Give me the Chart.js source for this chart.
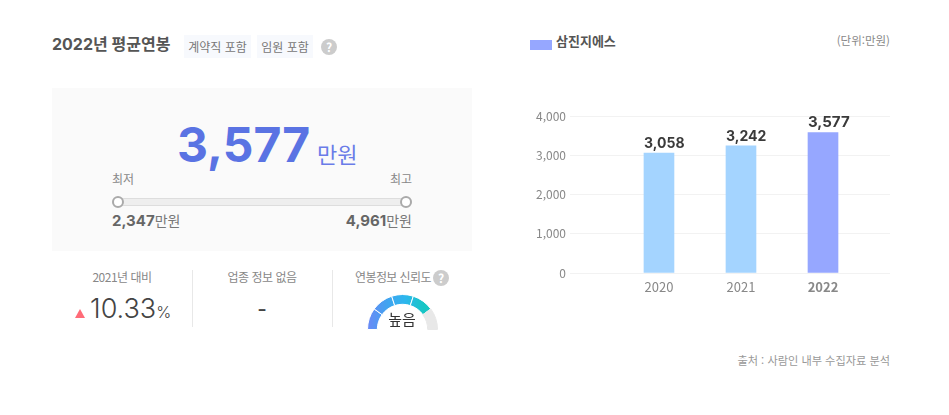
<!DOCTYPE html>
<html lang="ko"><head><meta charset="utf-8">
<script src="https://cdn.jsdelivr.net/npm/chart.js@4"></script>
<style>
html,body{margin:0;padding:0;background:#fff;width:949px;height:415px;overflow:hidden;font-family:"Noto Sans CJK KR","Noto Sans",sans-serif}
.a{position:absolute;white-space:nowrap;line-height:1}
.n{font-family:Inter,"Noto Sans CJK KR",sans-serif}
.c{transform:translateX(-50%)}
.r{transform:translateX(-100%)}
.tag{position:absolute;top:35px;height:23px;background:#f7f9fd;color:#777;font-size:12px;line-height:23px;text-align:center}
.q{position:absolute;width:16px;height:16px;border-radius:50%;background:#ccc;color:#fff;font-size:12px;font-weight:700;line-height:16px;text-align:center}
.sep{position:absolute;top:270px;height:57px;width:1px;background:#e8e8e8}
.lab{color:#888;font-size:12px;letter-spacing:-.5px}
</style></head><body>
<div class="a n" style="left:52px;top:36px;font-size:16px;font-weight:700;color:#555">2022년 평균연봉</div>
<div class="tag" style="left:184px;width:67px">계약직 포함</div>
<div class="tag" style="left:257px;width:56px">임원 포함</div>
<div class="q" style="left:321px;top:39px">?</div>

<div class="a" style="left:52px;top:88px;width:420px;height:163px;background:#fafafa"></div>
<div class="a n" id="big" style="left:177px;top:121px;font-size:48px;font-weight:700;color:#5a73e3"></div>
<div class="a" style="left:317px;top:142px;font-size:22px;color:#6a7ce8">만원</div>
<div class="a lab" style="left:112px;top:173px;letter-spacing:0">최저</div>
<div class="a lab r" style="left:412px;top:173px;letter-spacing:0">최고</div>
<div class="a" style="left:112px;top:198px;width:298px;height:6px;background:#eee;border:1px solid #ddd;border-radius:4px"></div>
<div class="a" style="left:112px;top:196px;width:8px;height:8px;background:#fff;border:2px solid #aaa;border-radius:50%"></div>
<div class="a" style="left:400px;top:196px;width:8px;height:8px;background:#fff;border:2px solid #aaa;border-radius:50%"></div>
<div class="a n" style="left:112px;top:213px;color:#666;font-size:15px;font-weight:700"><span id="lo"></span><span style="font-size:14px;font-weight:400;color:#777;font-family:'Noto Sans CJK KR'">만원</span></div>
<div class="a n r" style="left:412px;top:213px;color:#666;font-size:15px;font-weight:700"><span id="hi"></span><span style="font-size:14px;font-weight:400;color:#777;font-family:'Noto Sans CJK KR'">만원</span></div>

<div class="sep" style="left:192px"></div><div class="sep" style="left:332px"></div>
<div class="a lab c" style="left:122px;top:271px">2021년 대비</div>
<div class="a" style="left:75px;top:309px;width:0;height:0;border-left:5.5px solid transparent;border-right:5.5px solid transparent;border-bottom:9px solid #ff6b78"></div>
<div class="a n" style="left:90px;top:295px;color:#444;font-size:27px;font-weight:300"><span id="chg"></span><span style="font-size:16px">%</span></div>
<div class="a lab c" style="left:262px;top:271px">업종 정보 없음</div>
<div class="a c" style="left:262px;top:296px;color:#444;font-size:26px">-</div>
<div class="a lab" style="left:355px;top:271px;letter-spacing:-.6px">연봉정보 신뢰도</div>
<div class="q" style="left:433px;top:270px">?</div>
<div class="a" style="left:367px;top:294px;width:71px;height:36px;overflow:hidden"><canvas id="g" width="71" height="36" style="display:block"></canvas></div>
<div class="a c" style="left:402px;top:311px;color:#333;font-size:15px">높음</div>

<div class="a" style="left:530px;top:40px;width:22px;height:10px;background:#96a7ff"></div>
<div class="a" style="left:556px;top:34px;font-size:13px;font-weight:700;color:#555">삼진지에스</div>
<div class="a r" style="left:890px;top:35px;font-size:11.5px;color:#888">(단위:만원)</div>
<div class="a r" style="left:890px;top:355px;font-size:11.2px;color:#999">출처 : 사람인 내부 수집자료 분석</div>
<div class="a" style="left:520px;top:100px;width:370px;height:200px"><canvas id="c"></canvas></div>
<script>
const years=[2020,2021,2022];
const salaries=[3058,3242,3577];
const barColors=['#a4d4ff','#a4d4ff','#96a7ff'];
const yTicks=[0,1000,2000,3000,4000];
const lowest=2347, highest=4961, current=3577, change=10.33;
const gaugeSegments=[1,1,1,1,1];
const gaugeStops=['#6b88f6','#43a2f0','#2cb6ee','#17c6c4'];
const gaugeEmpty='#e8e8e8';

const fmt=v=>v.toLocaleString('en-US');
document.getElementById('big').textContent=fmt(current);
document.getElementById('lo').textContent=fmt(lowest);
document.getElementById('hi').textContent=fmt(highest);
document.getElementById('chg').textContent=change.toFixed(2);

const FONT='"Noto Sans CJK KR","Noto Sans",sans-serif';
const barLabels={id:'barLabels',afterDatasetsDraw(ch){
  const c=ch.ctx,m=ch.getDatasetMeta(0);
  c.save();c.fillStyle='#3a3a3a';c.textAlign='left';c.textBaseline='alphabetic';
  m.data.forEach((b,i)=>{
    c.font='700 '+(i===2?15:14)+'px Inter,'+FONT;
    c.fillText(fmt(salaries[i]),b.x-15,b.y-(i===2?6:5));
  });
  c.restore();
}};
new Chart(document.getElementById('c'),{
  type:'bar',
  data:{datasets:[{
    data:years.map((y,i)=>({x:y,y:salaries[i]})),
    backgroundColor:barColors,barThickness:30,borderWidth:0
  }]},
  plugins:[barLabels],
  options:{
    responsive:true,maintainAspectRatio:false,animation:false,
    layout:{padding:{top:16,left:0,right:0,bottom:0}},
    plugins:{legend:{display:false},tooltip:{enabled:false}},
    scales:{
      x:{type:'linear',offset:false,min:2018.915,max:2022.817,
        grid:{display:false,drawTicks:false,tickLength:0},border:{display:false},
        afterBuildTicks(s){s.ticks=years.map(v=>({value:v}));},
        afterFit(s){s.height=27;},
        ticks:{autoSkip:false,maxRotation:0,padding:6,color:'#888',
          callback:v=>String(v),
          font:ctx=>({family:FONT,size:13,weight:ctx.tick&&ctx.tick.value===2022?'700':'400'})}},
      y:{min:0,max:4000,
        grid:{color:'#f2f2f2',lineWidth:1,drawTicks:false},border:{display:false},
        afterBuildTicks(s){s.ticks=yTicks.map(v=>({value:v}));},
        afterFit(s){s.width=50;},
        ticks:{padding:4,color:'#888',callback:v=>fmt(v),font:{family:FONT,size:12}}}
    }
  }
});

const gaugeFill=ctx=>{
  if(ctx.dataIndex===gaugeSegments.length-1) return gaugeEmpty;
  const g=ctx.chart.ctx.createLinearGradient(0,0,ctx.chart.width*0.8,0);
  gaugeStops.forEach((s,i)=>g.addColorStop(i/(gaugeStops.length-1),s));
  return g;
};
new Chart(document.getElementById('g'),{
  type:'doughnut',
  data:{datasets:[{data:gaugeSegments,
    backgroundColor:gaugeFill,
    borderColor:ctx=>ctx.dataIndex===gaugeSegments.length-1?gaugeEmpty:'#fff',borderWidth:1}]},
  options:{responsive:false,animation:false,rotation:-90,circumference:180,cutout:'72%',
    layout:{padding:0},plugins:{legend:{display:false},tooltip:{enabled:false}}}
});
</script>
</body></html>
